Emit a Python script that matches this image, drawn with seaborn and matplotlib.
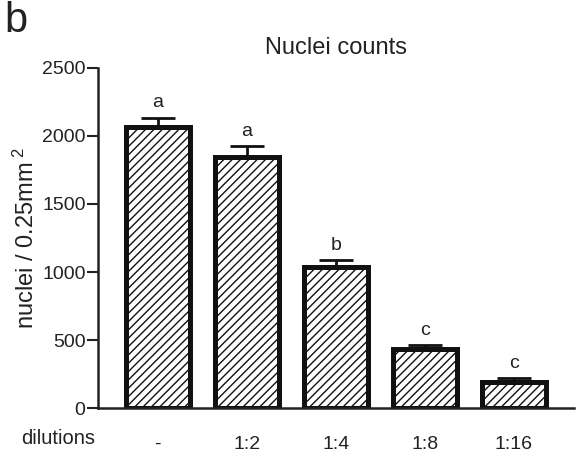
import matplotlib
matplotlib.use("Agg")
import matplotlib.pyplot as plt
import seaborn as sns
import numpy as np
import pandas as pd

# Nuclei counts per dilution (mean and upper SEM)
dilutions = ["-", "1:2", "1:4", "1:8", "1:16"]
nuclei_mean = [2065, 1845, 1035, 435, 195]
nuclei_sem = [70, 80, 55, 30, 25]
group_letters = ["a", "a", "b", "c", "c"]

sns.set_theme(style="white")
plt.rcParams["font.family"] = ["Liberation Sans", "DejaVu Sans"]
plt.rcParams["mathtext.default"] = "regular"
plt.rcParams["hatch.linewidth"] = 1.0
plt.rcParams["hatch.color"] = "#333333"

df = pd.DataFrame({"dilution": dilutions, "nuclei": nuclei_mean})

fig = plt.figure(figsize=(5.77, 4.59), dpi=100)
ax = fig.add_axes([0.170, 0.111, 0.825, 0.741])

sns.barplot(data=df, x="dilution", y="nuclei", order=dilutions,
            color="white", edgecolor="#111111", linewidth=3.6,
            width=0.72, errorbar=None, ax=ax)
for patch in ax.patches:
    patch.set_hatch("////")
    patch.set_zorder(2)

xpos = np.arange(len(dilutions))
ax.errorbar(xpos, nuclei_mean, yerr=[np.zeros(len(nuclei_sem)), nuclei_sem],
            fmt="none", ecolor="#111111", elinewidth=2.0, capsize=12,
            capthick=2.0, zorder=1)

for x, m, s, lab in zip(xpos, nuclei_mean, nuclei_sem, group_letters):
    ax.text(x, m + s + 45, lab, ha="center", va="bottom", fontsize=14,
            color="#222222")

ax.set_ylim(0, 2500)
ax.set_xlim(-0.67, 4.68)
ax.set_yticks([0, 500, 1000, 1500, 2000, 2500])
ax.tick_params(axis="y", which="major", direction="out", length=8, width=1.5,
               pad=1, labelsize=14, colors="#222222", left=True)
ax.tick_params(axis="x", length=0, pad=20, labelsize=14, colors="#222222")
ax.set_xlabel("")
ax.set_ylabel("nuclei / 0.25mm$^{\\;2}$", fontsize=17, color="#222222", labelpad=2)
ax.set_title("Nuclei counts", fontsize=17, color="#222222", pad=10)

for side in ["top", "right"]:
    ax.spines[side].set_visible(False)
for side in ["left", "bottom"]:
    ax.spines[side].set_linewidth(1.8)
    ax.spines[side].set_color("#222222")

ax.text(-0.083, -0.09, "dilutions", transform=ax.transAxes, ha="center",
        va="center", fontsize=14.5, color="#222222")
fig.text(0.008, 0.998, "b", ha="left", va="top", fontsize=30, color="#222222")

fig.savefig("out.png", dpi=100, facecolor="white")
